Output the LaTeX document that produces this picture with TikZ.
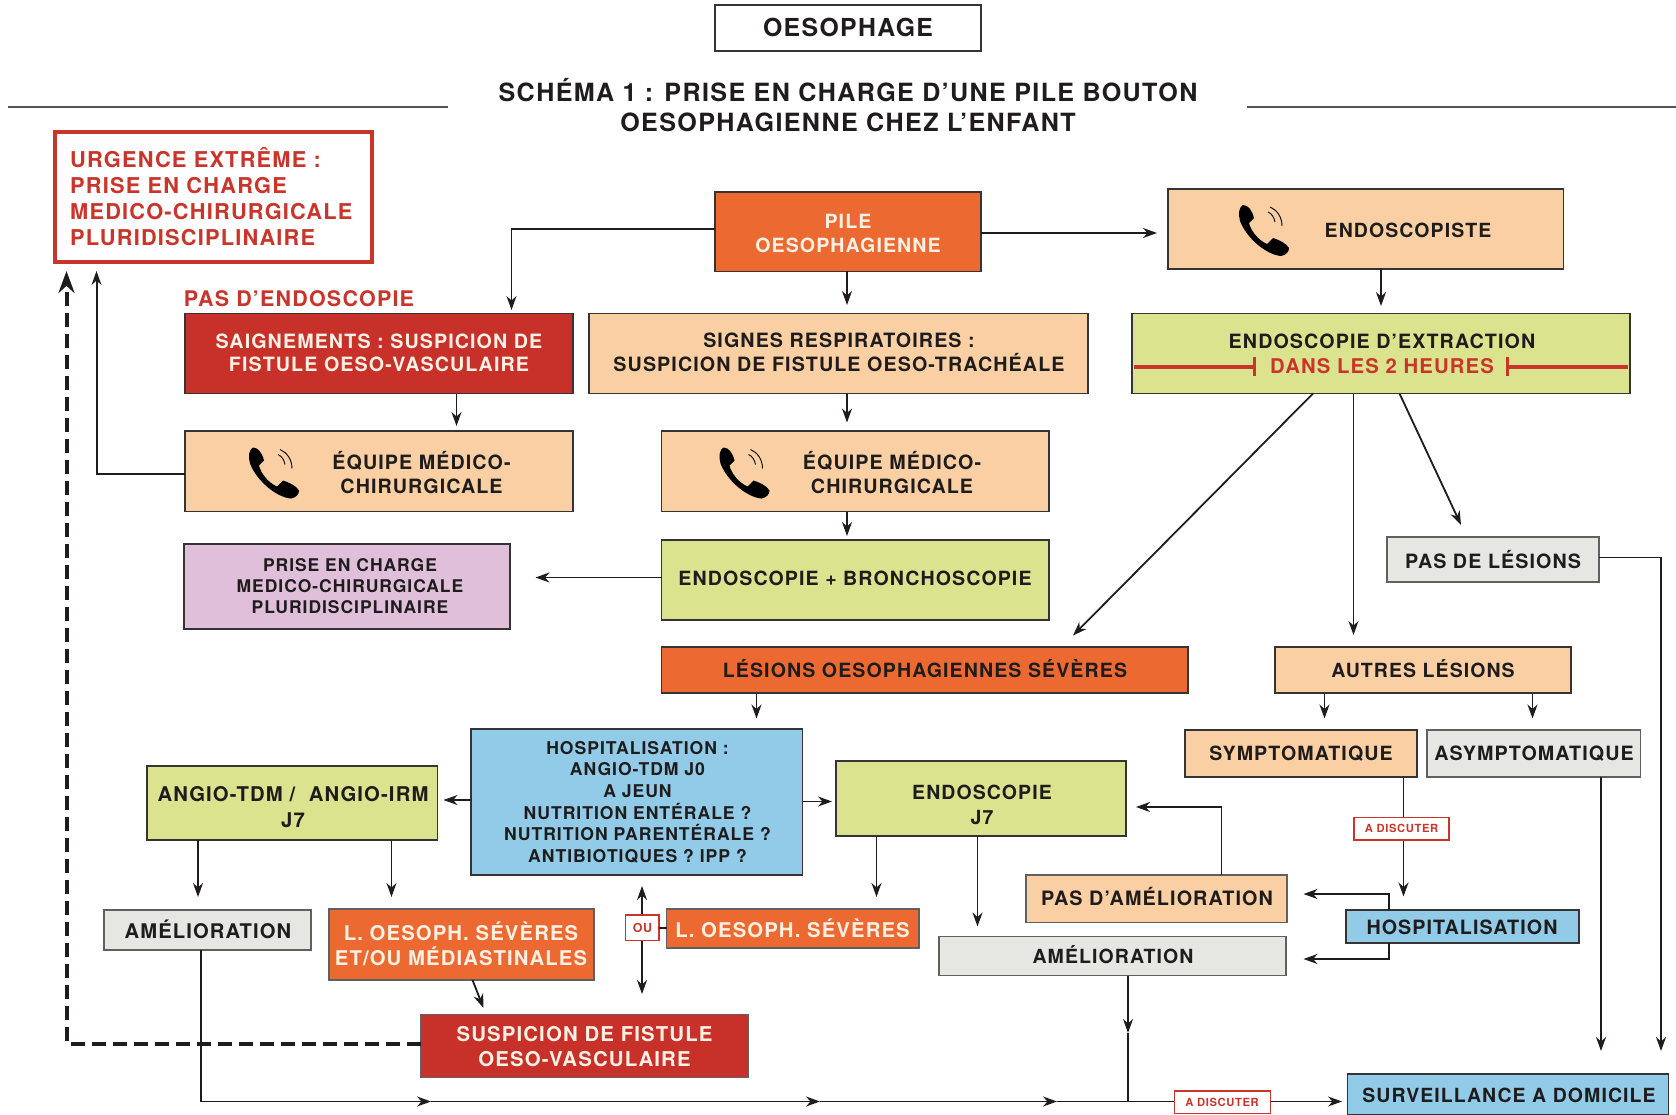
\documentclass[tikz,border=0pt]{standalone}
\usepackage{fontspec}
\setmainfont{TeX Gyre Heros}[LetterSpace=5.5]
\usetikzlibrary{arrows.meta}
\definecolor{ink}{HTML}{1E1C1C}
\definecolor{cOrange}{HTML}{EC6A32}
\definecolor{cPeach}{HTML}{F9CFA3}
\definecolor{cRed}{HTML}{C8302A}
\definecolor{cGreen}{HTML}{DBE38E}
\definecolor{cBlue}{HTML}{91CBE8}
\definecolor{cPurple}{HTML}{E0BFDA}
\definecolor{cGrey}{HTML}{E6E7E3}
\definecolor{cText}{HTML}{C9352B}
\definecolor{cCream}{HTML}{FCF1E4}
\tikzset{
  bxs/.style={draw=ink!90,line width=1.6pt,inner sep=0pt,outer sep=0pt},
  redbx/.style={draw=cText,fill=white,inner sep=0pt,outer sep=0pt},
  lnk/.style={draw=ink,line width=1.8pt,-{Stealth[length=14pt,width=10pt]}},
  plain/.style={draw=ink,line width=1.8pt},
  dsh/.style={draw=ink,line width=4pt,dash pattern=on 14pt off 7pt,-{Stealth[length=22pt,width=16pt]}},
  rline/.style={draw=cText,line width=4pt,-{Bar[width=19pt,line width=2.8pt]}},
}
\newcommand\bx[7]{%
  \pgfmathsetmacro\cxx{(#2+#4)/2}\pgfmathsetmacro\cyy{(#3+#5)/2}%
  \pgfmathsetmacro\ww{#4-#2}\pgfmathsetmacro\hh{#5-#3}%
  \node[#6,minimum width=\ww pt,minimum height=\hh pt] (#1) at (\cxx,\cyy) {#7};}
\newcommand\tx[7][ink]{%
  \node[text=#1,inner sep=0pt,align=center,font=\bfseries\fontsize{#5}{#6}\selectfont] (#2) at (#3,#4)
    {\rule{0pt}{.92em}#7\rule[-.2em]{0pt}{.2em}};}
\newcommand\phoneicon[2]{%
  \begin{scope}[shift={(#1,#2)}]
    \fill[black] (4,0) .. controls (9,0) and (13,5) .. (15,13)
      .. controls (13,16) and (11,16) .. (10,18)
      .. controls (12,26) and (19,35) .. (28,39)
      .. controls (30,37) and (32,35) .. (34,33)
      .. controls (40,35) and (47,38) .. (50,43)
      .. controls (50,47) and (47,50) .. (42,51)
      .. controls (28,50) and (8,34) .. (1,16)
      .. controls (-1,9) and (0,2) .. (4,0) -- cycle;
    \draw[black,line width=.9pt] (29,7) .. controls (33,9) and (35,12) .. (36,17);
    \draw[black,line width=.9pt] (31,2) .. controls (38,5) and (43,12) .. (43,21);
  \end{scope}}
\begin{document}
\begin{tikzpicture}[x=1pt,y=-1pt]
\useasboundingbox (0,0) rectangle (1676,1115);
\fill[white] (0,0) rectangle (1676,1115);

% title
\bx{oes}{715}{5}{981}{51}{bxs,fill=white}{}
\tx{oesT}{848}{28}{24.8}{28}{OESOPHAGE}
\tx{titre}{848}{107}{25.1}{30}{SCHÉMA 1 : PRISE EN CHARGE D’UNE PILE BOUTON\\OESOPHAGIENNE CHEZ L’ENFANT}
\coordinate (ruleA) at (8,107);
\coordinate (ruleB) at (448,107);
\coordinate (ruleC) at (1247,107);
\coordinate (ruleD) at (1676,107);
\draw[draw=ink!75,line width=2pt] (ruleA) -- (ruleB);
\draw[draw=ink!75,line width=2pt] (ruleC) -- (ruleD);

% boxes
\bx{urg}{55}{132}{372}{262}{draw=cText,line width=3.5pt,fill=white,inner sep=0pt,outer sep=0pt}{}
\node[text=cText,inner sep=0pt,anchor=west,align=left,font=\bfseries\fontsize{21.8}{26}\selectfont] (urgT) at (70,197)
  {URGENCE EXTRÊME :\\PRISE EN CHARGE\\MEDICO-CHIRURGICALE\\PLURIDISCIPLINAIRE};
\bx{pile}{715}{192}{981}{271.5}{bxs,fill=cOrange}{}
\tx[cCream]{pileT}{848}{233.5}{19.6}{24}{PILE\\OESOPHAGIENNE}
\bx{endo}{1168}{189}{1563.5}{269}{bxs,fill=cPeach}{}
\tx{endoT}{1408}{230}{19.5}{24}{ENDOSCOPISTE}
\tx[cText]{pasE}{299}{299}{21.5}{26}{PAS D’ENDOSCOPIE}
\bx{sai}{185}{313.5}{573}{393.5}{bxs,fill=cRed}{}
\tx[cCream]{saiT}{379}{353}{19.7}{23.5}{SAIGNEMENTS : SUSPICION DE\\FISTULE OESO-VASCULAIRE}
\bx{sig}{589}{313.5}{1088}{393.5}{bxs,fill=cPeach}{}
\tx{sigT}{839}{352.5}{19.7}{24}{SIGNES RESPIRATOIRES :\\SUSPICION DE FISTULE OESO-TRACHÉALE}
\bx{ext}{1132}{313.5}{1630}{393.5}{bxs,fill=cGreen}{}
\tx{extT}{1382}{341.5}{19.7}{24}{ENDOSCOPIE D’EXTRACTION}
\tx[cText]{extD}{1382}{366.5}{20.3}{24}{DANS LES 2 HEURES}
\coordinate (rA) at (1134,366.7);
\coordinate (rL) at (1255.5,366.7);
\coordinate (rR) at (1506,366.7);
\coordinate (rB) at (1628,366.7);
\draw[rline] (rA) -- (rL);
\draw[rline] (rB) -- (rR);
\bx{eq1}{185}{431}{573}{511.5}{bxs,fill=cPeach}{}
\tx{eq1T}{421.5}{474.5}{19.7}{24}{ÉQUIPE MÉDICO-\\CHIRURGICALE}
\bx{eq2}{661.5}{431}{1049}{511.5}{bxs,fill=cPeach}{}
\tx{eq2T}{892}{474.5}{19.7}{24}{ÉQUIPE MÉDICO-\\CHIRURGICALE}
\bx{pri}{184}{544}{510}{629}{bxs,fill=cPurple}{}
\tx{priT}{350}{586}{17.5}{21}{PRISE EN CHARGE\\MEDICO-CHIRURGICALE\\PLURIDISCIPLINAIRE}
\bx{bro}{661.5}{540}{1049}{620}{bxs,fill=cGreen}{}
\tx{broT}{855}{578}{19.6}{24}{ENDOSCOPIE + BRONCHOSCOPIE}
\bx{pdl}{1387}{537}{1599}{582}{bxs,draw=ink!70,fill=cGrey}{}
\tx{pdlT}{1493}{561}{19.7}{24}{PAS DE LÉSIONS}
\bx{les}{661.5}{647}{1188}{693}{bxs,fill=cOrange}{}
\tx{lesT}{925}{670}{19.6}{24}{LÉSIONS OESOPHAGIENNES SÉVÈRES}
\bx{aut}{1275}{647}{1571}{693}{bxs,fill=cPeach}{}
\tx{autT}{1423}{670}{19.5}{24}{AUTRES LÉSIONS}
\bx{hos}{471}{729}{802.5}{875}{bxs,fill=cBlue}{}
\tx{hosT}{637.5}{802}{17.6}{21.6}{HOSPITALISATION :\\ANGIO-TDM J0\\A JEUN\\NUTRITION ENTÉRALE ?\\NUTRITION PARENTÉRALE ?\\ANTIBIOTIQUES ? IPP ?}
\bx{sym}{1185}{730}{1417}{777}{bxs,fill=cPeach}{}
\tx{symT}{1301}{753}{19.6}{24}{SYMPTOMATIQUE}
\bx{asy}{1427}{730}{1640.5}{777}{bxs,draw=ink!70,fill=cGrey}{}
\tx{asyT}{1534}{753}{19.7}{24}{ASYMPTOMATIQUE}
\bx{ang}{147}{766}{437.5}{840}{bxs,fill=cGreen}{}
\tx{angT}{293}{807}{20.3}{25.5}{ANGIO-TDM /~~ANGIO-IRM\\J7}
\bx{j7}{836}{761}{1126}{836}{bxs,fill=cGreen}{}
\tx{j7T}{982}{804.5}{19.5}{25}{ENDOSCOPIE\\J7}
\bx{ame}{104}{910}{311}{950}{bxs,draw=ink!70,fill=cGrey}{}
\tx{ameT}{208}{931}{20.2}{24}{AMÉLIORATION}
\bx{los}{329}{909}{594}{980}{bxs,draw=ink!70,fill=cOrange}{}
\tx[cCream]{losT}{461}{946}{20.3}{25}{L. OESOPH. SÉVÈRES\\ET/OU MÉDIASTINALES}
\bx{lsv}{666.5}{909}{919}{948}{bxs,draw=ink!70,fill=cOrange}{}
\tx[cCream]{lsvT}{792.5}{930}{20.3}{25}{L. OESOPH. SÉVÈRES}
\bx{pam}{1026}{875}{1287}{922.5}{bxs,draw=ink!70,fill=cPeach}{}
\tx{pamT}{1157}{898}{19.8}{24}{PAS D’AMÉLIORATION}
\bx{hsp}{1346}{910}{1579}{943}{bxs,fill=cBlue}{}
\tx{hspT}{1462}{927.5}{19.7}{24}{HOSPITALISATION}
\bx{amr}{939}{936.5}{1286}{975.5}{bxs,draw=ink!70,fill=cGrey}{}
\tx{amrT}{1113}{956.5}{19.5}{24}{AMÉLIORATION}
\bx{sus}{421}{1014.5}{748}{1077.5}{bxs,draw=ink!70,fill=cRed}{}
\tx[cCream]{susT}{584.5}{1046.5}{20.4}{25}{SUSPICION DE FISTULE\\OESO-VASCULAIRE}
\bx{sur}{1347.5}{1074}{1668.5}{1114.5}{bxs,fill=cBlue}{}
\tx{surT}{1509}{1095}{19.5}{24}{SURVEILLANCE A DOMICILE}

% phones
\phoneicon{1239}{205}
\phoneicon{249}{447.5}
\phoneicon{719.5}{447.5}

% connectors: free ends
\coordinate (a1) at (511.5,310);
\coordinate (a1s) at (715,229);
\draw[lnk] (pile.west |- a1s) -| (a1);
\coordinate (a2) at (847,305);
\draw[lnk] (pile.south -| a2) -- (a2);
\coordinate (a3) at (1157,233);
\draw[lnk] (pile.east |- a3) -- (a3);
\coordinate (a4) at (1381,306);
\draw[lnk] (endo.south -| a4) -- (a4);
\coordinate (a5) at (456.5,426);
\draw[lnk] (sai.south -| a5) -- (a5);
\coordinate (a6) at (847,422.5);
\draw[lnk] (sig.south -| a6) -- (a6);
\coordinate (a7) at (847,536);
\draw[lnk] (eq2.south -| a7) -- (a7);
\coordinate (a8) at (96.5,271);
\coordinate (a8s) at (185,474);
\draw[lnk,line width=2pt] (eq1.west |- a8s) -| (a8);
\coordinate (a9) at (66.5,271);
\coordinate (a9s) at (421,1043.5);
\draw[dsh] (sus.west |- a9s) -| (a9);
\coordinate (a10) at (535.5,577.5);
\draw[lnk] (bro.west |- a10) -- (a10);
\coordinate (a11s) at (1313,393.5);
\coordinate (a11) at (1073,635.5);
\draw[lnk] (a11s) -- (a11);
\coordinate (a12) at (1353.5,635);
\draw[lnk] (ext.south -| a12) -- (a12);
\coordinate (a13s) at (1399.5,393.5);
\coordinate (a13) at (1461,525);
\draw[lnk] (a13s) -- (a13);
\coordinate (a14) at (1661,1051);
\coordinate (a14s) at (1599,557.5);
\draw[lnk] (pdl.east |- a14s) -| (a14);
\coordinate (a15) at (756.5,718.5);
\draw[lnk] (les.south -| a15) -- (a15);
\coordinate (a16) at (1324.5,718.5);
\draw[lnk] (aut.south -| a16) -- (a16);
\coordinate (a17) at (1532.5,718.5);
\draw[lnk] (aut.south -| a17) -- (a17);
\coordinate (a18) at (443.5,800);
\draw[lnk] (hos.west |- a18) -- (a18);
\coordinate (a19) at (832,801.5);
\draw[lnk] (hos.east |- a19) -- (a19);
\coordinate (a20) at (198,897);
\draw[lnk] (ang.south -| a20) -- (a20);
\coordinate (a21) at (391.5,897);
\draw[lnk] (ang.south -| a21) -- (a21);
\coordinate (a22a) at (642,886);
\coordinate (a22b) at (642,994);
\draw[lnk,{Stealth[length=14pt,width=10pt]}-{Stealth[length=14pt,width=10pt]}] (a22a) -- (a22b);
\coordinate (a23s) at (472.5,980);
\coordinate (a23) at (483.5,1008);
\draw[lnk] (a23s) -- (a23);
\coordinate (a24) at (876.5,897);
\draw[lnk] (j7.south -| a24) -- (a24);
\coordinate (a25) at (977.5,926.5);
\draw[lnk] (j7.south -| a25) -- (a25);
\coordinate (a26a) at (1221.5,807);
\coordinate (a26) at (1136,807);
\draw[lnk] (pam.north -| a26a) -- (a26a) -- (a26);
\coordinate (a27) at (1403.5,896.5);
\draw[lnk] (sym.south -| a27) -- (a27);
\coordinate (a28a) at (1389,894);
\coordinate (a28) at (1303.5,894);
\draw[lnk] (hsp.north -| a28a) -- (a28a) -- (a28);
\coordinate (a29a) at (1389,959);
\coordinate (a29) at (1303.5,959);
\draw[lnk] (hsp.south -| a29a) -- (a29a) -- (a29);
\coordinate (a30) at (1601,1051);
\draw[lnk] (asy.south -| a30) -- (a30);
\coordinate (a31) at (1128,1033);
\coordinate (a31e) at (1128,1101.5);
\draw[lnk] (amr.south -| a31) -- (a31);
\draw[plain] (a31) -- (a31e);
\coordinate (b0) at (201,1101.5);
\coordinate (b1) at (431,1101.5);
\coordinate (b2) at (820,1101.5);
\coordinate (b3) at (1057,1101.5);
\coordinate (b4) at (1342,1101.5);
\draw[lnk] (ame.south -| b0) -- (b0) -- (b1);
\draw[lnk] (b1) -- (b2);
\draw[lnk] (b2) -- (b3);
\draw[lnk] (b3) -- (b4);

% small labels on top of the lines
\bx{ou}{625.5}{915}{659}{940.5}{redbx,line width=1.5pt}{}
\tx[cText]{ouT}{642.5}{927.5}{12.5}{14}{OU}
\draw[plain] (ou.east) -- (lsv.west |- ou.east);
\bx{ad1}{1354}{817.5}{1449}{840}{redbx,line width=1.5pt}{}
\tx[cText]{ad1T}{1401.5}{828.5}{11.2}{14}{A DISCUTER}
\bx{ad2}{1174.5}{1091}{1270.5}{1113.5}{redbx,line width=1.5pt}{}
\tx[cText]{ad2T}{1222}{1102.5}{11.2}{14}{A DISCUTER}
\end{tikzpicture}
\end{document}
